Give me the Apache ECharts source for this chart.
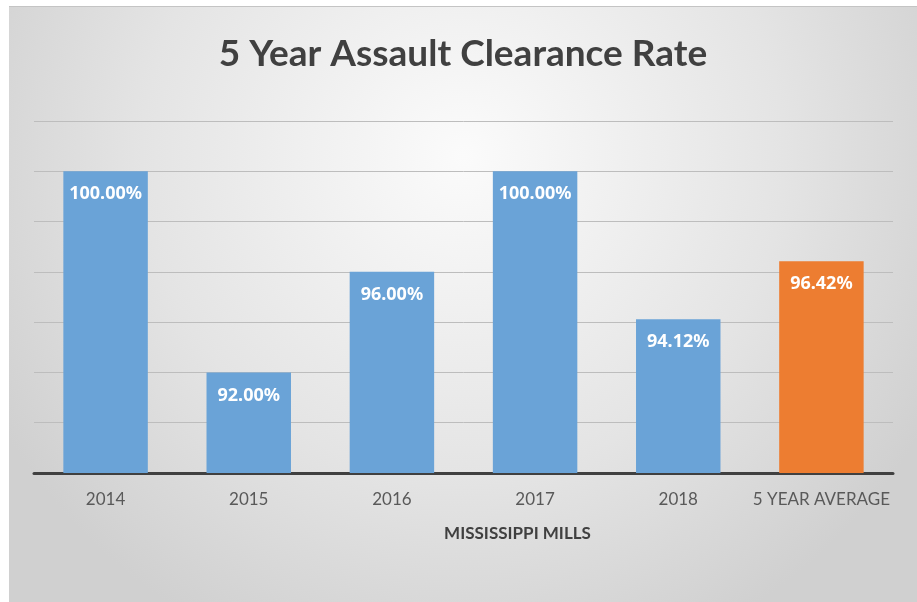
<!DOCTYPE html>
<html>
<head>
<meta charset="utf-8">
<script src="https://cdn.jsdelivr.net/npm/echarts@6/dist/echarts.min.js"></script>
<style>
  html, body { margin: 0; padding: 0; background: #ffffff; }
  #chart { position: absolute; left: 9px; top: 6px; width: 908px; height: 596px; border-top: 1px solid #c4c4c4; box-sizing: border-box; }
</style>
</head>
<body>
<div id="chart"></div>
<script>
const categories = ['2014', '2015', '2016', '2017', '2018', '5 YEAR AVERAGE']
const rates = [100.00, 92.00, 96.00, 100.00, 94.12, 96.42]
const barColors = ['#6aa3d7', '#6aa3d7', '#6aa3d7', '#6aa3d7', '#6aa3d7', '#ed7d31']

const chart = echarts.init(document.getElementById('chart'))

const option = {
  backgroundColor: {
    type: 'radial', x: 0.5, y: 0.25, r: 0.9,
    colorStops: [
      { offset: 0, color: '#fbfbfb' },
      { offset: 0.6, color: '#e4e4e4' },
      { offset: 1, color: '#d0d0d0' }
    ]
  },
  title: {
    text: '5 Year Assault Clearance Rate',
    left: 'center',
    top: 24,
    textStyle: { fontFamily: 'Lato', fontWeight: 'bold', fontSize: 37, color: '#404040' }
  },
  grid: { left: 25, right: 24, top: 114, bottom: 129 },
  xAxis: {
    type: 'category',
    data: categories,
    name: 'MISSISSIPPI MILLS',
    nameLocation: 'middle',
    nameGap: 52,
    nameTextStyle: { fontFamily: 'Lato', fontWeight: 'bold', fontSize: 17, color: '#404040', padding: [0, 0, 0, 108] },
    axisLine: { lineStyle: { color: '#404040', width: 3 } },
    axisTick: { show: false },
    axisLabel: { interval: 0, fontFamily: 'Lato', fontSize: 17, color: '#595959', margin: 18 }
  },
  yAxis: {
    type: 'value',
    min: 88,
    max: 102,
    interval: 2,
    axisLine: { show: false },
    axisTick: { show: false },
    axisLabel: { show: false },
    splitLine: { lineStyle: { color: '#bdbdbd', width: 1 } }
  },
  series: [{
    type: 'bar',
    barWidth: '59%',
    data: rates.map((v, i) => ({ value: v, itemStyle: { color: barColors[i] } })),
    label: {
      show: true,
      position: 'insideTop',
      distance: 14,
      formatter: p => p.value.toFixed(2) + '%',
      fontFamily: 'Noto Sans',
      fontWeight: 'bold',
      fontSize: 18,
      color: '#ffffff'
    }
  }]
}

chart.setOption(option)
</script>
</body>
</html>
